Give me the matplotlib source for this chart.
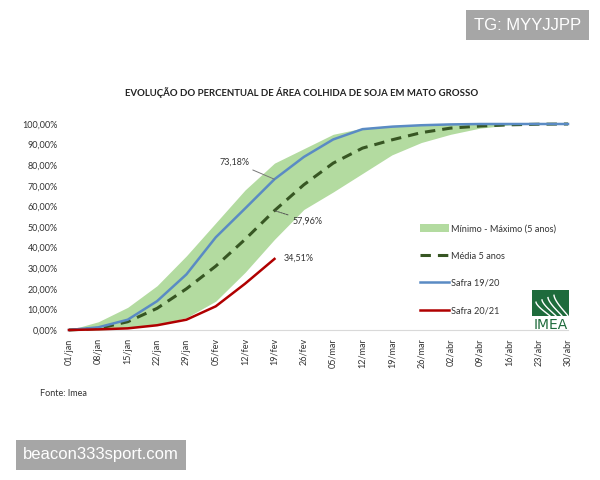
import matplotlib
matplotlib.use("Agg")
import matplotlib.pyplot as plt
import numpy as np
from matplotlib.patches import Patch, Rectangle
from matplotlib.lines import Line2D
from matplotlib.ticker import FuncFormatter

plt.rcParams['font.family'] = ['Lato', 'DejaVu Sans']

dates = ['01/jan', '08/jan', '15/jan', '22/jan', '29/jan', '05/fev', '12/fev', '19/fev', '26/fev',
         '05/mar', '12/mar', '19/mar', '26/mar', '02/abr', '09/abr', '16/abr', '23/abr', '30/abr']
min_5 = [0, 0, 0.8, 2.5, 6, 14, 28, 44, 58.5, 67, 76, 85, 91, 95, 98, 99.5, 100, 100]
max_5 = [0, 4, 11, 21.5, 36, 52, 68, 81, 88, 95, 98, 99.3, 99.8, 100, 100, 100, 100, 100]
mean_5 = [0, 0.8, 4, 10.5, 20, 31, 44, 57.96, 70.5, 81, 88.3, 92.3, 95.8, 98, 99, 99.6, 99.9, 100]
safra_1920 = [0, 1.3, 5, 14, 27, 45, 59, 73.18, 84, 92.5, 97.5, 98.7, 99.4, 99.8, 100, 100, 100, 100]
safra_2021 = [0, 0.3, 0.8, 2.3, 5, 11.5, 22.5, 34.51]
y_ticks = [0, 10, 20, 30, 40, 50, 60, 70, 80, 90, 100]

x = np.arange(len(dates))
x21 = np.arange(len(safra_2021))

fig = plt.figure(figsize=(6, 4.8), dpi=100)
ax = fig.add_axes([69/600, 1-330/480, (568-69)/600, (330-124)/480])

band_c = '#b3dba0'
mean_c = '#375623'
blue_c = '#5a8bc4'
red_c = '#b00000'

ax.fill_between(x, min_5, max_5, color=band_c, lw=0, label='Mínimo - Máximo (5 anos)')
ax.plot(x, mean_5, color=mean_c, lw=2.2, dashes=(3.4, 2.3), label='Média 5 anos', clip_on=False)
ax.plot(x, safra_1920, color=blue_c, lw=1.8, label='Safra 19/20', clip_on=False)
ax.plot(x21, safra_2021, color=red_c, lw=1.8, label='Safra 20/21', clip_on=False)

ax.set_xlim(0, len(dates)-1)
ax.set_ylim(0, 100)
ax.set_xticks(x)
ax.set_xticklabels(dates, rotation=90, fontsize=6.5, color='#333333')
ax.set_yticks(y_ticks)
ax.yaxis.set_major_formatter(FuncFormatter(lambda v, p: f"{v:.2f}".replace('.', ',') + '%'))
ax.tick_params(axis='y', length=0, labelsize=6.5, pad=8, colors='#333333')
ax.tick_params(axis='x', length=0, pad=6)
for s in ['top', 'right', 'left']:
    ax.spines[s].set_visible(False)
ax.spines['bottom'].set_color('#d9d9d9')
ax.spines['bottom'].set_zorder(0)

# annotations
i19 = 7
ax.annotate(f"{safra_1920[i19]:.2f}".replace('.', ',') + '%', xy=(x[i19], safra_1920[i19]),
            xytext=(x[i19]-0.85, safra_1920[i19]+8.3), fontsize=6.5, ha='right', va='center', color='#333333',
            arrowprops=dict(arrowstyle='-', color='#777777', lw=0.7, shrinkA=1, shrinkB=0))
ax.annotate(f"{mean_5[i19]:.2f}".replace('.', ',') + '%', xy=(x[i19], mean_5[i19]),
            xytext=(x[i19]+0.6, mean_5[i19]-5), fontsize=6.5, ha='left', va='center', color='#333333',
            arrowprops=dict(arrowstyle='-', color='#555555', lw=0.7, ls=(0, (2, 1)), shrinkA=1, shrinkB=0))
ax.annotate(f"{safra_2021[-1]:.2f}".replace('.', ',') + '%', xy=(x21[-1], safra_2021[-1]),
            xytext=(x21[-1]+0.3, safra_2021[-1]+0.3), fontsize=6.5, ha='left', va='center', color='#333333')

handles = [Patch(facecolor=band_c, edgecolor='none'),
           Line2D([], [], color=mean_c, lw=2.2, dashes=(3.4, 2.3)),
           Line2D([], [], color=blue_c, lw=1.8),
           Line2D([], [], color=red_c, lw=1.8)]
labels = ['Mínimo - Máximo (5 anos)', 'Média 5 anos', 'Safra 19/20', 'Safra 20/21']
leg = fig.legend(handles, labels, loc='upper left', bbox_to_anchor=(412/600, 1-216/480),
                 frameon=False, fontsize=6.6, labelspacing=2.0, handlelength=3.1,
                 handleheight=0.9, handletextpad=0.3)
for t in leg.get_texts():
    t.set_color('#333333')

# IMEA logo (approximate)
logo_c = '#1e6b3c'
fig.patches.append(Rectangle((532/600, 1-316/480), 37/600, 26/480, transform=fig.transFigure,
                             facecolor=logo_c, edgecolor='none'))
for k, off in enumerate([0, 6, 12, 18]):
    t = np.linspace(0, 1, 30)
    xs = (536 + off + 14*t**1.5) / 600
    ys = 1 - (316 - 23*(1-t)**0.9 * (0.6 + 0.1*k)) / 480
    fig.add_artist(Line2D(xs, ys, color='white', lw=1.0, transform=fig.transFigure))
fig.text(550.5/600, 1-318/480, 'IMEA', fontsize=10, color=logo_c, ha='center', va='top',
         family='DejaVu Sans')

fig.text(302/600, 1-92/480, 'EVOLUÇÃO DO PERCENTUAL DE ÁREA COLHIDA DE SOJA EM MATO GROSSO',
         fontsize=6.9, fontweight='bold', ha='center', va='center', color='#222222')
fig.text(40/600, 1-393/480, 'Fonte: Imea', fontsize=6.5, ha='left', va='center', color='#333333')

# watermarks
fig.text(527.5/600, 1-25/480, 'TG: MYYJJPP', fontsize=12, color='white', ha='center', va='center',
         family='Liberation Sans',
         bbox=dict(boxstyle='square,pad=0.45', facecolor='#a6a6a6', edgecolor='none'))
fig.text(101/600, 1-455/480, 'beacon333sport.com', fontsize=12, color='white', ha='center', va='center',
         family='Liberation Sans',
         bbox=dict(boxstyle='square,pad=0.45', facecolor='#a6a6a6', edgecolor='none'))

fig.savefig('out.png', dpi=100)
